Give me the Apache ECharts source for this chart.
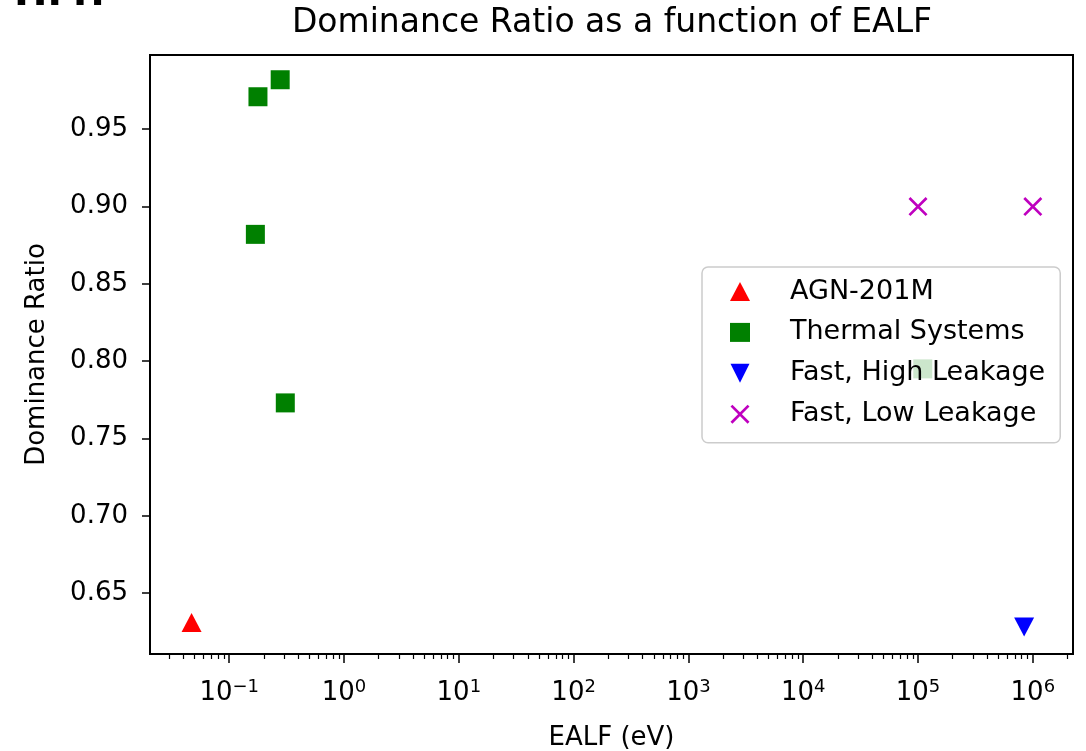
<!DOCTYPE html>
<html><head><meta charset="utf-8">
<script src="https://cdn.jsdelivr.net/npm/echarts@6/dist/echarts.min.js"></script>
<style>html,body{margin:0;padding:0;background:#fff}#c{width:1086px;height:751px}</style>
</head><body><div id="c"></div>
<script>
// ---- data ----
const agnX = [0.047];
const agnY = [0.631];
const thermalX = [0.178, 0.278, 0.169, 0.308, 1.1e5];
const thermalY = [0.971, 0.982, 0.882, 0.773, 0.795];
const fastHighX = [8.4e5];
const fastHighY = [0.628];
const fastLowX = [1e5, 1e6];
const fastLowY = [0.900, 0.900];
const xMajorExponents = [-1, 0, 1, 2, 3, 4, 5, 6];
const yTicks = [0.65, 0.70, 0.75, 0.80, 0.85, 0.90, 0.95];
const seriesNames = ['AGN-201M', 'Thermal Systems', 'Fast, High Leakage', 'Fast, Low Leakage'];
const titleText = 'Dominance Ratio as a function of EALF';
const xName = 'EALF (eV)';
const yName = 'Dominance Ratio';
const cornerText = 'HM?';

// ---- build ----
const FONT = 'DejaVu Sans';
const pts = (xs, ys) => xs.map((x, i) => [Math.log10(x), ys[i]]);
const xMin = -1.69, xMax = 6.35;
const yMin = 0.6106, yMax = 0.998;
const minorLogs = [];
for (let e = -2; e <= 6; e++) {
  for (let k = 2; k <= 9; k++) {
    const v = e + Math.log10(k);
    if (v > xMin && v < xMax) minorLogs.push(v);
  }
}
const X_PATH = 'path://M0,1 L1,0 L10,9 L9,10 Z M9,0 L10,1 L1,10 L0,9 Z';
const DOWN_TRI = 'path://M0,0 L10,0 L5,10 Z';

const chart = echarts.init(document.getElementById('c'), null, {renderer: 'canvas'});
chart.setOption({
  backgroundColor: '#ffffff',
  animation: false,
  title: {
    text: titleText, left: 607, top: 2, textAlign: 'center',
    textStyle: {fontFamily: FONT, fontSize: 33, fontWeight: 'normal', color: '#000'}
  },
  graphic: [{
    type: 'text', left: 14, top: -25,
    style: {text: cornerText, font: 'bold 40px "DejaVu Sans"', fill: '#000'}
  }],
  grid: {left: 150, right: 13, top: 55, bottom: 97, show: true, borderColor: '#000', borderWidth: 2,
         containLabel: false, outerBoundsMode: 'none'},
  legend: {
    orient: 'vertical', left: 702, top: 267,
    padding: [11, 15, 15, 28], itemGap: 13.9, itemWidth: 20, itemHeight: 19,
    backgroundColor: 'rgba(255,255,255,0.8)', borderColor: '#cccccc', borderWidth: 1.5, borderRadius: 6,
    textStyle: {fontFamily: FONT, fontSize: 27, color: '#000', padding: [0, 0, 0, 35], lineHeight: 19},
    data: seriesNames
  },
  xAxis: [{
    type: 'value', min: xMin, max: xMax, position: 'bottom',
    axisLine: {show: true, onZero: false, lineStyle: {color: '#000', width: 2}},
    axisTick: {show: true, customValues: xMajorExponents, length: 9, lineStyle: {color: '#000', width: 1.5}},
    axisLabel: {
      customValues: xMajorExponents, margin: 24, color: '#000',
      formatter: v => { const e = Math.round(v); return '{b|10}{s|' + (e < 0 ? '\u2212' + (-e) : e) + '}'; },
      rich: {
        b: {fontFamily: FONT, fontSize: 26, color: '#000', verticalAlign: 'bottom', lineHeight: 28},
        s: {fontFamily: FONT, fontSize: 18, color: '#000', verticalAlign: 'top', lineHeight: 18}
      }
    },
    splitLine: {show: false},
    name: xName, nameLocation: 'middle', nameGap: 71,
    nameTextStyle: {fontFamily: FONT, fontSize: 26, color: '#000'}
  }, {
    type: 'value', min: xMin, max: xMax, position: 'bottom',
    axisLine: {show: false, onZero: false},
    axisTick: {show: true, customValues: minorLogs, length: 5, lineStyle: {color: '#000', width: 1.2}},
    axisLabel: {show: false},
    splitLine: {show: false}
  }],
  yAxis: {
    type: 'value', min: yMin, max: yMax,
    axisLine: {show: true, onZero: false, lineStyle: {color: '#000', width: 2}},
    axisTick: {show: true, customValues: yTicks, length: 8, lineStyle: {color: '#000', width: 1.5}},
    axisLabel: {customValues: yTicks, margin: 22, color: '#000', fontFamily: FONT, fontSize: 26,
                formatter: v => v.toFixed(2)},
    splitLine: {show: false},
    name: yName, nameLocation: 'middle', nameGap: 100,
    nameTextStyle: {fontFamily: FONT, fontSize: 26, color: '#000'}
  },
  series: [
    {name: seriesNames[0], type: 'scatter', xAxisIndex: 0, data: pts(agnX, agnY),
     symbol: 'triangle', symbolSize: [20, 19], itemStyle: {color: '#ff0000', opacity: 1}},
    {name: seriesNames[1], type: 'scatter', xAxisIndex: 0, data: pts(thermalX, thermalY),
     symbol: 'rect', symbolSize: 19, itemStyle: {color: '#008000', opacity: 1}},
    {name: seriesNames[2], type: 'scatter', xAxisIndex: 0, data: pts(fastHighX, fastHighY),
     symbol: DOWN_TRI, symbolSize: [20, 19], itemStyle: {color: '#0000ff', opacity: 1}},
    {name: seriesNames[3], type: 'scatter', xAxisIndex: 0, data: pts(fastLowX, fastLowY),
     symbol: X_PATH, symbolSize: 19, itemStyle: {color: '#bf00bf', opacity: 1}}
  ]
});
</script>
</body></html>
